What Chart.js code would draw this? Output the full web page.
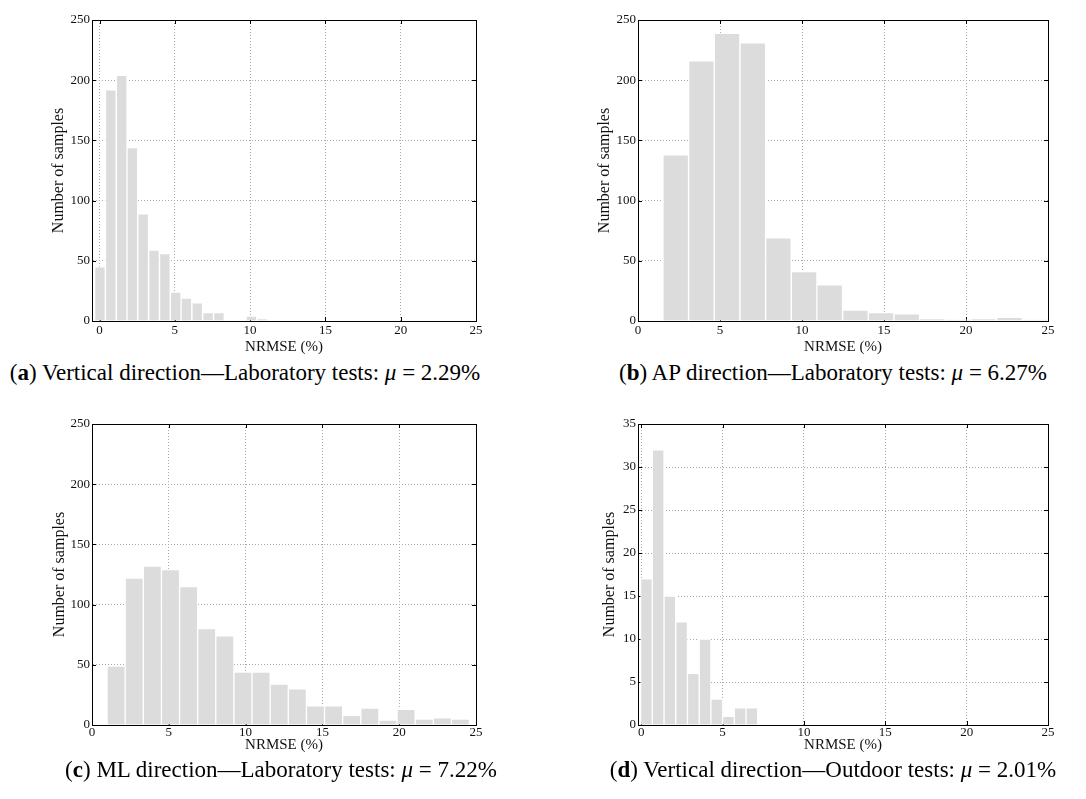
<!DOCTYPE html>
<html>
<head>
<meta charset="utf-8">
<script src="https://cdn.jsdelivr.net/npm/chart.js@4/dist/chart.umd.min.js"></script>
<style>
  html, body { margin: 0; padding: 0; background: #fff; }
  #wrap { position: relative; width: 1086px; height: 799px; overflow: hidden; }
  canvas { position: absolute; }
  .caption {
    position: absolute; white-space: nowrap; color: #000;
    font-family: "Liberation Serif", serif; font-size: 23px; line-height: 24px;
    transform: translateX(-50%);
  }
</style>
</head>
<body>
<div id="wrap">
  <canvas id="chartA" width="543" height="360" style="left:0;top:0"></canvas>
  <canvas id="chartB" width="543" height="360" style="left:543px;top:0"></canvas>
  <canvas id="chartC" width="543" height="360" style="left:0;top:404px"></canvas>
  <canvas id="chartD" width="543" height="360" style="left:543px;top:404px"></canvas>

  <div class="caption" style="left:245px;top:361px">(<b>a</b>) Vertical direction—Laboratory tests: <i>μ</i> = 2.29%</div>
  <div class="caption" style="left:833px;top:361px">(<b>b</b>) AP direction—Laboratory tests: <i>μ</i> = 6.27%</div>
  <div class="caption" style="left:281px;top:758px">(<b>c</b>) ML direction—Laboratory tests: <i>μ</i> = 7.22%</div>
  <div class="caption" style="left:833px;top:758px">(<b>d</b>) Vertical direction—Outdoor tests: <i>μ</i> = 2.01%</div>
</div>

<script>
// bin centres (NRMSE %) and sample counts
const binsA = [0.03, 0.75, 1.47, 2.18, 2.90, 3.62, 4.34, 5.06, 5.77, 6.49, 7.21, 7.93, 8.65, 9.36, 10.08,
               10.80, 11.52, 12.24, 12.95, 13.67, 14.39, 15.11, 15.83, 16.54, 17.26, 17.98, 18.70, 19.41, 20.13, 20.85];
const countsA = [45, 192, 204, 144, 89, 59, 56, 24, 19, 15, 7, 7, 0, 0, 4,
                 2, 0, 0, 0, 0, 0, 0, 0, 0, 0, 0, 0, 0, 0, 0];

const binsB = [2.30, 3.87, 5.43, 7.00, 8.56, 10.13, 11.69, 13.26, 14.82, 16.39, 17.95, 19.52, 21.08, 22.65, 24.21];
const countsB = [138, 216, 239, 231, 69, 41, 30, 9, 7, 6, 2, 1, 2, 3, 1];

const binsC = [1.57, 2.75, 3.93, 5.11, 6.29, 7.47, 8.65, 9.83, 11.01, 12.19,
               13.37, 14.55, 15.73, 16.91, 18.09, 19.27, 20.45, 21.63, 22.81, 23.99];
const countsC = [49, 122, 132, 129, 115, 80, 74, 44, 44, 34, 30, 16, 16, 8, 14, 4, 13, 5, 6, 5];

const binsD = [0.32, 1.04, 1.76, 2.48, 3.20, 3.92, 4.64, 5.36, 6.08, 6.80];
const countsD = [17, 32, 15, 12, 6, 10, 3, 1, 2, 2];

const xTitle = "NRMSE (%)";
const yTitle = "Number of samples";
const FONT = "'Liberation Serif', serif";

// box round the plot plus small inward tick marks, like the matlab axes
const framePlugin = {
  id: "frame",
  beforeDatasetsDraw(chart) {
    const { ctx, chartArea: a, scales } = chart;
    ctx.save();
    ctx.strokeStyle = "#000";
    ctx.lineWidth = 1;
    ctx.strokeRect(Math.round(a.left) + 0.5, Math.round(a.top) + 0.5,
                   Math.round(a.right - a.left), Math.round(a.bottom - a.top));
    ctx.beginPath();
    scales.x.ticks.forEach((t, i) => {
      const px = Math.round(scales.x.getPixelForTick(i)) + 0.5;
      ctx.moveTo(px, a.top); ctx.lineTo(px, a.top + 4);
      ctx.moveTo(px, a.bottom); ctx.lineTo(px, a.bottom - 4);
    });
    scales.y.ticks.forEach((t, i) => {
      const py = Math.round(scales.y.getPixelForTick(i)) + 0.5;
      ctx.moveTo(a.left, py); ctx.lineTo(a.left + 4, py);
      ctx.moveTo(a.right, py); ctx.lineTo(a.right - 4, py);
    });
    ctx.stroke();
    ctx.restore();
  }
};

function makeHist(id, bins, counts, o) {
  const ctx = document.getElementById(id).getContext("2d");
  return new Chart(ctx, {
    type: "bar",
    data: {
      datasets: [{
        data: bins.map((b, i) => ({ x: b, y: counts[i] })),
        backgroundColor: "#dcdcdc",
        borderColor: "#ffffff",
        borderWidth: 1,
        barPercentage: 1,
        categoryPercentage: 1
      }]
    },
    options: {
      responsive: false,
      animation: false,
      layout: { padding: { top: 20, right: o.padRight, left: 0, bottom: 0 } },
      plugins: { legend: { display: false }, tooltip: { enabled: false } },
      scales: {
        x: {
          type: "linear",
          min: o.xMin,
          max: 25,
          offset: false,
          afterFit: s => { s.height = 39; },
          grid: { offset: false, color: "#a8a8a8", drawTicks: false },
          border: { color: "#000", width: 1, dash: [1, 2] },
          ticks: { stepSize: 5, includeBounds: false, padding: o.tickPad, color: "#111",
                   font: { family: FONT, size: 13 } },
          title: { display: true, text: xTitle, color: "#111",
                   font: { family: FONT, size: 15 }, padding: { top: 0, bottom: o.xTitlePad } }
        },
        y: {
          min: 0,
          max: o.yMax,
          afterFit: s => { s.width = o.yWidth; },
          grid: { color: "#a8a8a8", drawTicks: false },
          border: { color: "#000", width: 1, dash: [1, 2] },
          ticks: { stepSize: o.yStep, padding: 2, color: "#111",
                   font: { family: FONT, size: 13 } },
          title: { display: true, text: yTitle, color: "#111",
                   font: { family: FONT, size: 16 }, padding: { top: o.yTitleX - 9.6, bottom: 0 } }
        }
      }
    },
    plugins: [framePlugin]
  });
}

function drawAll() {
  makeHist("chartA", binsA, countsA, { xMin: -0.5, yMax: 250, yStep: 50, yWidth: 92, padRight: 67, yTitleX: 59, tickPad: 2, xTitlePad: 4 });
  makeHist("chartB", binsB, countsB, { xMin: 0, yMax: 250, yStep: 50, yWidth: 95, padRight: 38, yTitleX: 62, tickPad: 2, xTitlePad: 4 });
  makeHist("chartC", binsC, countsC, { xMin: 0, yMax: 250, yStep: 50, yWidth: 92, padRight: 67, yTitleX: 60, tickPad: 0, xTitlePad: 10 });
  makeHist("chartD", binsD, countsD, { xMin: -0.2, yMax: 35, yStep: 5, yWidth: 95, padRight: 38, yTitleX: 67, tickPad: 0, xTitlePad: 10 });
}

Promise.all([
  document.fonts.load("13px 'Liberation Serif'"),
  document.fonts.load("16px 'Liberation Serif'")
]).then(drawAll, drawAll);
</script>
</body>
</html>
